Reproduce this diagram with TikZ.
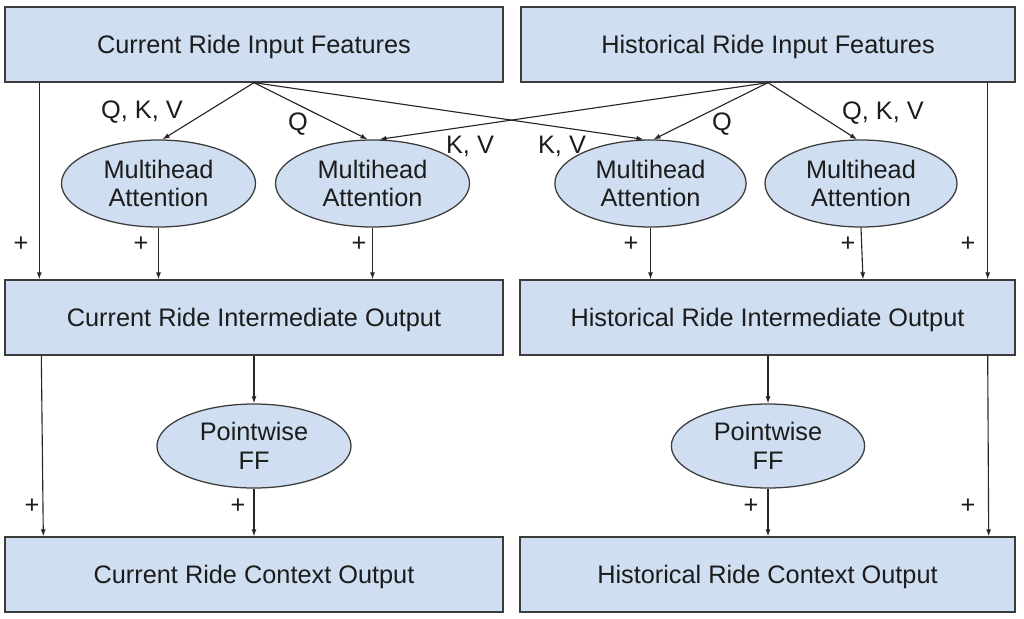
\documentclass[tikz,border=0pt]{standalone}
\usepackage{fontspec}
\setmainfont{Liberation Sans}
\usetikzlibrary{shapes.geometric,arrows.meta,calc}
\definecolor{boxfill}{RGB}{207,222,240}
\definecolor{edge}{RGB}{60,60,60}
\definecolor{txt}{RGB}{28,28,28}
\tikzset{
  base/.style={font=\fontsize{18}{20.5}\selectfont, text=txt},
  boxnode/.style={base, draw=edge, fill=boxfill, line width=0.9pt, inner sep=0pt, minimum height=1.875cm, text depth=0pt},
  ellnode/.style={base, ellipse, draw=edge, fill=boxfill, line width=0.9pt, inner sep=0pt, align=center, minimum width=4.85cm, minimum height=2.175cm},
  lbl/.style={base, inner sep=0pt},
  arr/.style={draw=black!85, line width=0.8pt, -{Latex[length=5pt,width=3.6pt]}},
}
\begin{document}
\begin{tikzpicture}[x=0.025cm, y=-0.025cm]
\path[use as bounding box] (0,0) rectangle (1024,618);
% boxes
\node[boxnode, minimum width=12.45cm] (cin) at (254,44.5) {Current Ride Input Features};
\node[boxnode, minimum width=12.35cm] (hin) at (768,44.5) {Historical Ride Input Features};
\node[boxnode, minimum width=12.45cm] (cim) at (254,317.5) {Current Ride Intermediate Output};
\node[boxnode, minimum width=12.375cm] (him) at (767.5,317.5) {Historical Ride Intermediate Output};
\node[boxnode, minimum width=12.45cm] (cco) at (254,574.5) {Current Ride Context Output};
\node[boxnode, minimum width=12.375cm] (hco) at (767.5,574.5) {Historical Ride Context Output};
% ellipses
\node[ellnode] (m1) at (158.5,183.5) {Multihead\\Attention};
\node[ellnode] (m2) at (372.5,183.5) {Multihead\\Attention};
\node[ellnode, minimum width=4.78cm] (m3) at (650.5,183.5) {Multihead\\Attention};
\node[ellnode, minimum width=4.8cm] (m4) at (861,183.5) {Multihead\\Attention};
\node[ellnode, minimum height=2.1cm] (f1) at (254,446) {Pointwise\\FF};
\node[ellnode, minimum height=2.1cm, minimum width=4.83cm] (f2) at (768,446) {Pointwise\\FF};
% attention inputs
\draw[arr] (cin.south) -- ([xshift=0.1cm]m1.north);
\draw[arr] (cin.south) -- ([xshift=-0.125cm]m2.north);
\draw[arr] (cin.south) -- ([xshift=-0.175cm]m3.north);
\draw[arr] (hin.south) -- ([xshift=0.175cm]m2.north);
\draw[arr] (hin.south) -- ([xshift=0.075cm]m3.north);
\draw[arr] (hin.south) -- ([xshift=-0.1cm]m4.north);
% attention outputs
\draw[arr] (m1.south) -- (m1.south |- cim.north);
\draw[arr] (m2.south) -- (m2.south |- cim.north);
\draw[arr] (m3.south) -- (m3.south |- him.north);
\draw[arr] (m4.south) -- ($(m4.south |- him.north)+(2,0)$);
% residual connections
\draw[arr] ([xshift=0.875cm]cin.south west) -- ([xshift=0.875cm]cim.north west);
\draw[arr] ([xshift=-0.7cm]hin.south east) -- ([xshift=-0.7cm]him.north east);
\draw[arr] ([xshift=0.925cm]cim.south west) -- ([xshift=0.975cm]cco.north west);
\draw[arr] ([xshift=-0.7cm]him.south east) -- ([xshift=-0.675cm]hco.north east);
% feed forward
\draw[arr] (cim.south) -- (f1.north);
\draw[arr] (f1.south) -- (cco.north);
\draw[arr] (f2.north |- him.south) -- (f2.north);
\draw[arr] (f2.south) -- (f2.south |- hco.north);
% labels
\node[lbl, anchor=base] (l1) at (142,118) {Q, K, V};
\node[lbl, anchor=base] (l2) at (298,130) {Q};
\node[lbl, anchor=base] (l3) at (470,153) {K, V};
\node[lbl, anchor=base] (l4) at (562,153) {K, V};
\node[lbl, anchor=base] (l5) at (722,130) {Q};
\node[lbl, anchor=base] (l6) at (883,119) {Q, K, V};
\node[lbl] (p1) at (21,244) {+};
\node[lbl] (p2) at (141,244) {+};
\node[lbl] (p3) at (359,244) {+};
\node[lbl] (p4) at (631,244) {+};
\node[lbl] (p5) at (848,244) {+};
\node[lbl] (p6) at (968,244) {+};
\node[lbl] (p7) at (32,506) {+};
\node[lbl] (p8) at (238,506) {+};
\node[lbl] (p9) at (751,506) {+};
\node[lbl] (p10) at (968,506) {+};
\end{tikzpicture}
\end{document}
